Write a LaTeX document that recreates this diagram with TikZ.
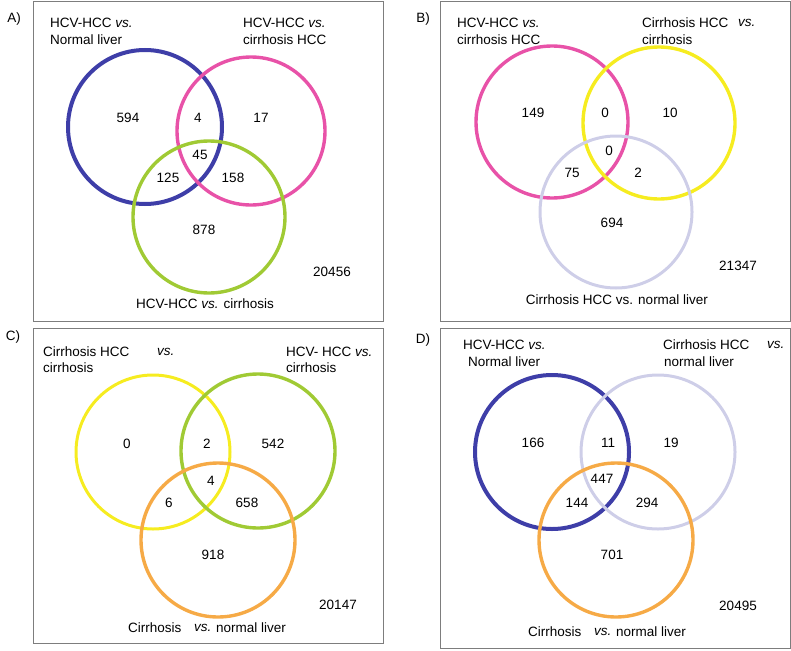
\documentclass[tikz,border=0pt]{standalone}
\usepackage{fontspec}
\setmainfont{Liberation Sans}
\definecolor{ringblue}{RGB}{62,62,168}
\definecolor{ringpink}{RGB}{232,82,168}
\definecolor{ringgreen}{RGB}{160,202,52}
\definecolor{ringyellow}{RGB}{246,236,32}
\definecolor{ringlav}{RGB}{206,206,232}
\definecolor{ringorange}{RGB}{246,170,70}
\definecolor{framegray}{RGB}{125,125,125}

\begin{document}
\begin{tikzpicture}[x=1pt,y=-1pt]
  \tikzset{
    ring/.style={line width=3.4pt},
    frame/.style={framegray,line width=1pt},
    txt/.style={font=\fontsize{13.5}{16}\selectfont,inner sep=0pt},
    lft/.style={txt,anchor=west}
  }
  \useasboundingbox (0,0) rectangle (791,650);
  % frames
  \draw[frame] (33,2) rectangle (383,321);
  \draw[frame] (440,2) rectangle (790,321);
  \draw[frame] (33,328) rectangle (383,643);
  \draw[frame] (440,328) rectangle (790,648);

  % A)
  \node[txt] (tagA) at (14,19) {A)};
  \draw[ring,ringblue,line width=4pt] (145,127) circle (77);
  \draw[ring,ringpink] (251,131) circle (74);
  \draw[ring,ringgreen] (209,217) circle (76);
  \node[lft] (a1) at (50,23) {HCV-HCC \textit{vs.}};
  \node[lft] (a2) at (50,40) {Normal liver};
  \node[lft] (a3) at (243,23) {HCV-HCC \textit{vs.}};
  \node[lft] (a4) at (243,40) {cirrhosis HCC};
  \node[txt] (a5) at (128,118) {594};
  \node[txt] (a6) at (198,118) {4};
  \node[txt] (a7) at (261,118) {17};
  \node[txt] (a8) at (200,155) {45};
  \node[txt] (a9) at (168,178) {125};
  \node[txt] (a10) at (233,178) {158};
  \node[txt] (a11) at (204,230) {878};
  \node[txt] (a12) at (332,272) {20456};
  \node[txt] (a13) at (205,304) {HCV-HCC \textit{vs.} cirrhosis};

  % B)
  \node[txt] (tagB) at (423,19) {B)};
  \draw[ring,ringpink] (552,122) circle (76);
  \draw[ring,ringyellow] (659,123) circle (76);
  \draw[ring,ringlav,line width=3pt] (616,212) circle (76);
  \node[lft] (b1) at (457,23) {HCV-HCC \textit{vs.}};
  \node[lft] (b2) at (457,40) {cirrhosis HCC};
  \node[lft] (b3) at (642,23) {Cirrhosis HCC};
  \node[lft] (b4) at (738,23) {\textit{vs.}};
  \node[lft] (b5) at (642,40) {cirrhosis};
  \node[txt] (b6) at (533,113) {149};
  \node[txt] (b7) at (605,113) {0};
  \node[txt] (b8) at (670,113) {10};
  \node[txt] (b9) at (609,151) {0};
  \node[txt] (b10) at (572,173) {75};
  \node[txt] (b11) at (638,173) {2};
  \node[txt] (b12) at (612,223) {694};
  \node[txt] (b13) at (738,266) {21347};
  \node[txt] (b14) at (617,300) {Cirrhosis HCC vs. normal liver};

  % C)
  \node[txt] (tagC) at (13,337) {C)};
  \draw[ring,ringyellow,line width=3pt] (153,452) circle (77);
  \draw[ring,ringgreen] (258,451) circle (77);
  \draw[ring,ringorange] (218,540) circle (77);
  \node[lft] (c1) at (43,352) {Cirrhosis HCC};
  \node[lft] (c2) at (157,352) {\textit{vs.}};
  \node[lft] (c3) at (43,368) {cirrhosis};
  \node[lft] (c4) at (286,352) {HCV- HCC \textit{vs.}};
  \node[lft] (c5) at (286,368) {cirrhosis};
  \node[txt] (c6) at (127,444) {0};
  \node[txt] (c7) at (207,444) {2};
  \node[txt] (c8) at (273,444) {542};
  \node[txt] (c9) at (211,481) {4};
  \node[txt] (c10) at (169,503) {6};
  \node[txt] (c11) at (247,503) {658};
  \node[txt] (c12) at (213,555) {918};
  \node[txt] (c13) at (338,605) {20147};
  \node[lft] (c14) at (128,628) {Cirrhosis};
  \node[lft] (c15) at (194,628) {\textit{vs.}};
  \node[lft] (c16) at (216,628) {normal liver};

  % D)
  \node[txt] (tagD) at (423,340) {D)};
  \draw[ring,ringblue,line width=4pt] (552,452) circle (77);
  \draw[ring,ringlav,line width=3pt] (658,452) circle (77);
  \draw[ring,ringorange] (616,540) circle (77);
  \node[lft] (d1) at (463,345) {HCV-HCC \textit{vs.}};
  \node[lft] (d2) at (468,362) {Normal liver};
  \node[lft] (d3) at (663,345) {Cirrhosis HCC};
  \node[lft] (d4) at (767,345) {\textit{vs.}};
  \node[lft] (d5) at (664,362) {normal liver};
  \node[txt] (d6) at (533,443) {166};
  \node[txt] (d7) at (608,443) {11};
  \node[txt] (d8) at (671,443) {19};
  \node[txt] (d9) at (602,479) {447};
  \node[txt] (d10) at (577,503) {144};
  \node[txt] (d11) at (647,503) {294};
  \node[txt] (d12) at (612,555) {701};
  \node[txt] (d13) at (738,606) {20495};
  \node[lft] (d14) at (528,632) {Cirrhosis};
  \node[lft] (d15) at (594,632) {\textit{vs.}};
  \node[lft] (d16) at (616,632) {normal liver};
\end{tikzpicture}
\end{document}
